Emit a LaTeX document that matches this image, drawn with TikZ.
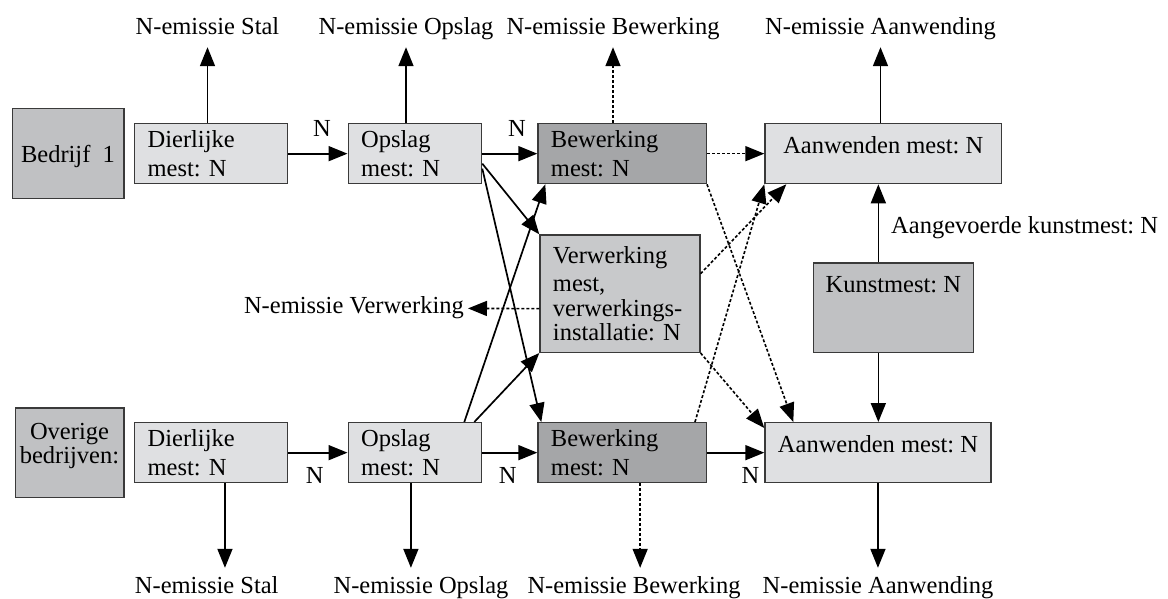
\documentclass[tikz,border=0pt]{standalone}
\usepackage{fontspec}
\setmainfont{Liberation Serif}
\usetikzlibrary{arrows.meta}
\frenchspacing
\definecolor{boxlight}{HTML}{DFE0E2}
\definecolor{boxmid}{HTML}{C0C1C3}
\definecolor{boxverw}{HTML}{C8C9CB}
\definecolor{boxdark}{HTML}{A5A6A8}
\definecolor{boxline}{HTML}{3A3A3A}
\begin{document}
\begin{tikzpicture}[x=1pt, y=-1pt,
		every node/.style={font=\fontsize{24.5}{28.5}\selectfont},
		>={Triangle[length=19pt,width=15pt]},
		flow/.style={line width=1.7pt},
		emis/.style={line width=1.6pt, dash pattern=on 3pt off 2pt},
		box/.style={draw=boxline, line width=1.3pt, anchor=north west, inner xsep=13pt, inner ysep=0pt, align=left, minimum height=60pt},
		cbox/.style={draw=boxline, line width=1.3pt, anchor=north west, inner xsep=2pt, inner ysep=0pt, align=center},
		emlabel/.style={anchor=base, text height=17pt, text depth=5pt, inner xsep=2pt, inner ysep=8pt},
		nlabel/.style={inner sep=2pt}
	]
		\useasboundingbox (0,0) rectangle (1168,598);
		% bedrijf 1
		\node[cbox, fill=boxmid, minimum width=111.7pt, minimum height=90pt, text depth=0pt] (bedr1) at (11.5,108) {Bedrijf\ \ 1};
		\node[box, fill=boxlight, text width=126.6pt] (dier1) at (134,123) {Dierlijke\\mest: N};
		\node[box, fill=boxlight, text width=107.5pt] (opsl1) at (347.5,123) {Opslag\\mest: N};
		\node[box, fill=boxdark, text width=142.4pt] (bew1) at (537.3,123) {Bewerking\\mest: N};
		\node[cbox, fill=boxlight, minimum width=236.7pt, minimum height=60pt, text depth=17pt] (aanw1) at (764.3,123) {Aanwenden mest: N};
		% verwerking en kunstmest
		\node[box, fill=boxverw, text width=134pt, minimum height=117.4pt, font=\fontsize{24.5}{24.5}\selectfont] (verw) at (539.3,234.3) {Verwerking\\[4pt]mest,\\verwerkings-\\installatie: N};
		\node[cbox, fill=boxmid, minimum width=160pt, minimum height=89.4pt, text depth=47pt] (kunst) at (812.7,262.3) {Kunstmest: N};
		% overige bedrijven
		\node[cbox, fill=boxmid, minimum width=108.7pt, minimum height=89.7pt, font=\fontsize{24.5}{21.7}\selectfont, text depth=19pt] (over) at (14.5,407.3) {Overige\\bedrijven:};
		\node[box, fill=boxlight, text width=126.6pt] (dier2) at (134,422) {Dierlijke\\mest: N};
		\node[box, fill=boxlight, text width=107.5pt] (opsl2) at (347.5,422) {Opslag\\mest: N};
		\node[box, fill=boxdark, text width=142.4pt] (bew2) at (537.3,422) {Bewerking\\mest: N};
		\node[cbox, fill=boxlight, minimum width=226pt, minimum height=60pt, text depth=17pt] (aanw2) at (764.3,422) {Aanwenden mest: N};
		% emissies
		\node[emlabel] (em1stal) at (207.5,34) {N-emissie Stal};
		\node[emlabel] (em1opsl) at (406,34) {N-emissie Opslag};
		\node[emlabel] (em1bew) at (613,34) {N-emissie Bewerking};
		\node[emlabel] (em1aanw) at (880.5,34) {N-emissie Aanwending};
		\node[emlabel] (em2stal) at (206.7,593) {N-emissie Stal};
		\node[emlabel] (em2opsl) at (421,593) {N-emissie Opslag};
		\node[emlabel] (em2bew) at (634,593) {N-emissie Bewerking};
		\node[emlabel] (em2aanw) at (878,593) {N-emissie Aanwending};
		\node[anchor=east, inner sep=4pt] (emverw) at (468,308) {N-emissie Verwerking};
		% stromen bovenaan
		\draw[flow, ->] (em1stal |- dier1.north) -- (em1stal);
		\draw[flow, ->] (em1opsl |- opsl1.north) -- (em1opsl);
		\draw[emis, ->] (em1bew |- bew1.north) -- (em1bew);
		\draw[flow, ->] (em1aanw |- aanw1.north) -- (em1aanw);
		\draw[flow, ->] (dier1) -- (opsl1) node[nlabel, pos=0.57, above=14pt] {N};
		\draw[flow, ->] (opsl1) -- (bew1) node[nlabel, pos=0.63, above=14pt] {N};
		\draw[emis, ->] (bew1) -- (aanw1);
		% kruisende stromen
		\draw[flow, ->] ([yshift=-10pt]opsl1.east) -- (verw.north west);
		\draw[flow, ->] ([yshift=-15pt]opsl1.east) -- ([xshift=4pt]bew2.north west);
		\draw[flow, ->] ([xshift=-18pt]opsl2.north east) -- ([xshift=8pt]bew1.south west);
		\draw[flow, ->] ([xshift=-8pt]opsl2.north east) -- (verw.south west);
		\draw[emis, ->] (bew1.south east) -- ([xshift=29pt]aanw2.north west);
		\draw[emis, ->] ([yshift=20pt]verw.east) -- ([xshift=22pt]aanw1.south west);
		\draw[emis, ->] ([xshift=-12pt]bew2.north east) -- (aanw1.south west);
		\draw[emis, ->] (verw.south east) -- ([yshift=-6pt]aanw2.north west);
		\draw[emis, ->] ([yshift=-15pt]verw.west) -- (emverw);
		% kunstmest
		\draw[flow, ->] ([xshift=-15pt]kunst.north) -- ([xshift=-15pt]kunst.north |- aanw1.south) node[pos=0.45, right=8pt, inner sep=4pt] {Aangevoerde kunstmest: N};
		\draw[flow, ->] ([xshift=-15pt]kunst.south) -- ([xshift=-15pt]kunst.south |- aanw2.north);
		% stromen onderaan
		\draw[flow, ->] (dier2) -- (opsl2) node[nlabel, pos=0.45, below=12pt] {N};
		\draw[flow, ->] (opsl2) -- (bew2) node[nlabel, pos=0.46, below=12pt] {N};
		\draw[flow, ->] (bew2) -- (aanw2) node[nlabel, pos=0.76, below=12pt] {N};
		\draw[flow, ->] ([xshift=14pt]dier2.south) -- ([xshift=14pt]dier2.south |- em2stal.north);
		\draw[flow, ->] ([xshift=-4pt]opsl2.south) -- ([xshift=-4pt]opsl2.south |- em2opsl.north);
		\draw[emis, ->] ([xshift=18pt]bew2.south) -- ([xshift=18pt]bew2.south |- em2bew.north);
		\draw[flow, ->] (aanw2.south) -- (aanw2.south |- em2aanw.north);
	\end{tikzpicture}
\end{document}
